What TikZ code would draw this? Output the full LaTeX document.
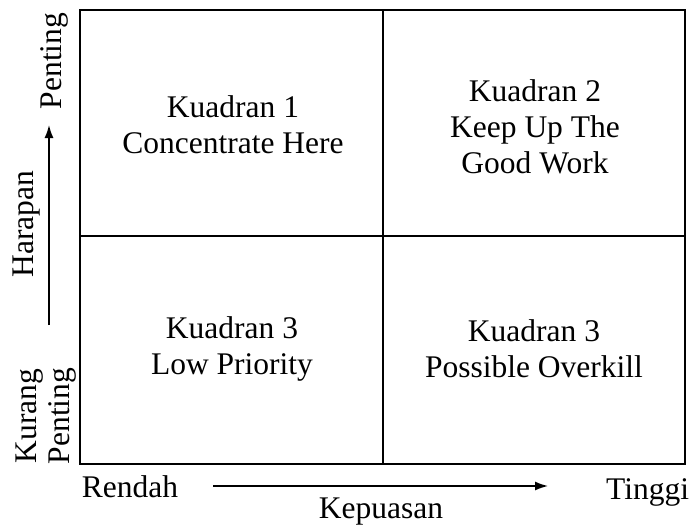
\documentclass[tikz,border=0pt]{standalone}
\usepackage{fontspec}
\setmainfont{Liberation Serif}
\usetikzlibrary{arrows.meta}

\begin{document}
\begin{tikzpicture}[x=1pt,y=-1pt]
        \tikzstyle{every node}+=[inner sep=0pt, font=\fontsize{31.5}{36}\selectfont]
        \tikzstyle{quadtext}=[align=center]
        \tikzstyle{axislabel}=[anchor=base]
        \tikzstyle{axisarrow}=[black, line width=1.5pt, -{Latex[length=13pt,width=9pt]}]
        \useasboundingbox (0,0) rectangle (689,525);
        % grid of quadrants
        \draw [black, line width=1.8pt] (80,10) rectangle (685,464);
        \draw [black, line width=1.8pt] (383,10) -- (383,464);
        \draw [black, line width=1.8pt] (80,236) -- (685,236);
        % quadrant texts
        \node [quadtext] (q1) at (233,125) {Kuadran 1\\Concentrate Here};
        \node [quadtext] (q2) at (535,127) {Kuadran 2\\Keep Up The\\Good Work};
        \node [quadtext] (q3) at (232,349) {Kuadran 3\\Low Priority};
        \node [quadtext] (q4) at (534,349) {Kuadran 3\\Possible Overkill};
        % vertical axis
        \node [axislabel, rotate=90] (penting) at (61,61) {Penting};
        \node [axislabel, rotate=90] (harapan) at (34,224) {Harapan};
        \node [rotate=90, align=center, font=\fontsize{31.5}{33}\selectfont] (kurang) at (46,416) {Kurang\\Penting};
        \coordinate (ya) at (49,325);
        \coordinate (yb) at (49,125);
        \draw [axisarrow] (ya) -- (yb);
        % horizontal axis
        \node [axislabel] (rendah) at (130,497) {Rendah};
        \node [anchor=base west] (tinggi) at (606,499) {Tinggi};
        \node [axislabel] (kepuasan) at (381,518) {Kepuasan};
        \coordinate (xa) at (213,486);
        \coordinate (xb) at (548,486);
        \draw [axisarrow] (xa) -- (xb);
\end{tikzpicture}
\end{document}
